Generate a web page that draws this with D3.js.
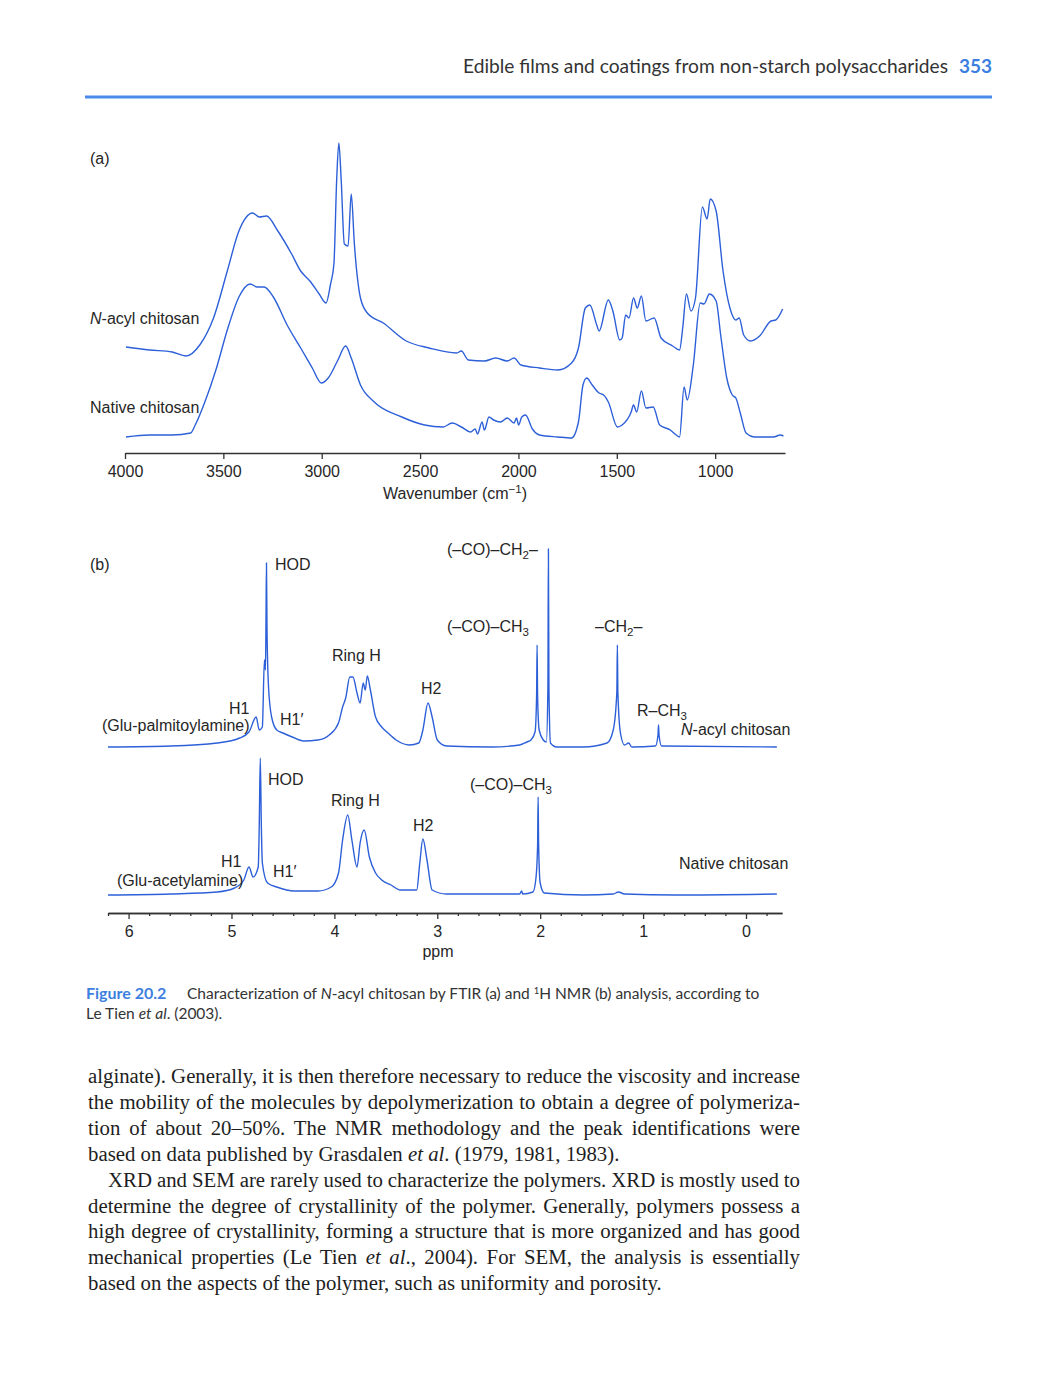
<!DOCTYPE html>
<html>
<head>
<meta charset="utf-8">
<script src="https://cdn.jsdelivr.net/npm/d3@7"></script>
<style>
  body { margin: 0; background: #fff; }
  svg text { white-space: pre; }
</style>
</head>
<body>
<svg id="page" width="1060" height="1390"></svg>
<script>
// ---- FTIR (a): wavenumber (cm-1) and absorbance (a.u.) ----
var irTicks = [4000, 3500, 3000, 2500, 2000, 1500, 1000];
var irAcylWn = [3995,3876,3760,3690,3620,3550,3480,3421,3351,3317,3281,3223,3153,3107,3060,3013,2978,2955,2938,2924,2913,2901,2885,2866,2850,2834,2803,2768,2687,2570,2454,2314,2290,2255,2173,2115,2057,2022,1987,1893,1800,1730,1695,1660,1637,1602,1590,1543,1520,1485,1473,1455,1438,1415,1396,1375,1352,1310,1275,1216,1181,1165,1146,1123,1100,1065,1041,1025,995,960,925,895,878,855,820,774,716,692,657];
var irAcylAbs = [106,103,101,97,108,135,182,222,240,236,237,222,199,182,172,159,150,169,189,273,310,273,209,207,259,209,155,140,130,112,105,100,102,93,92,95,92,95,88,85,83,90,105,145,148,128,122,153,142,113,115,138,135,155,145,157,132,135,115,107,103,125,159,142,155,246,234,254,242,182,145,133,135,118,112,117,132,133,144];
var irNativeWn = [3995,3876,3760,3666,3643,3596,3538,3480,3421,3363,3328,3293,3246,3176,3107,3048,3002,2967,2920,2878,2850,2803,2733,2593,2477,2383,2337,2290,2243,2220,2208,2185,2173,2150,2126,2091,2057,2022,2010,1999,1983,1964,1929,1893,1800,1730,1695,1672,1653,1625,1590,1567,1543,1497,1473,1427,1415,1399,1375,1352,1315,1282,1228,1198,1181,1158,1142,1111,1076,1057,1029,995,972,941,913,895,871,843,797,704,669,653];
var irNativeAbs = [16,18,18,20,28,50,83,123,156,169,166,166,156,128,105,85,70,75,92,107,95,68,51,36,28,26,30,26,21,24,19,31,23,36,33,31,35,30,35,28,36,38,24,18,16,15,31,68,75,68,60,58,51,26,28,41,48,41,62,45,46,28,23,18,16,66,53,88,150,149,159,152,118,75,58,55,39,20,16,16,18,17];

// ---- 1H NMR (b): chemical shift (ppm) and intensity (a.u.) ----
var nmrMajorTicks = [6, 5, 4, 3, 2, 1, 0];
var nmrAcylPpm = [6.2,5.59,5.14,4.92,4.83,4.76,4.73,4.70,4.68,4.67,4.665,4.66,4.655,4.64,4.61,4.56,4.50,4.41,4.30,4.16,4.05,3.96,3.92,3.89,3.85,3.82,3.78,3.75,3.72,3.70,3.68,3.65,3.60,3.54,3.49,3.40,3.27,3.18,3.14,3.09,3.05,3.00,2.91,2.47,2.20,2.13,2.09,2.05,2.035,2.03,2.025,2.01,1.97,1.94,1.925,1.92,1.915,1.90,1.84,1.58,1.35,1.29,1.255,1.25,1.245,1.22,1.18,1.14,1.11,0.88,0.855,0.85,0.845,0.82,-0.3];
var nmrAcylInt = [0,1,4,9,15,30,17,20,87,77,120,184,120,60,30,17,14,10,6,7,12,24,40,49,70,70,54,44,64,57,71,57,30,20,15,7,2,4,17,44,30,7,1,0,2,5,7,15,50,102,50,17,7,5,60,198,60,4,0,0,4,17,55,102,55,14,2,4,0,1,12,22,12,1,0];
var nmrNativePpm = [6.2,5.59,5.14,4.97,4.88,4.83,4.79,4.74,4.73,4.72,4.71,4.70,4.65,4.56,4.39,4.16,4.03,3.96,3.92,3.87,3.83,3.78,3.75,3.71,3.66,3.60,3.54,3.45,3.36,3.20,3.17,3.14,3.10,3.05,2.91,2.20,2.18,2.17,2.07,2.04,2.025,2.02,2.015,2.00,1.96,1.58,1.29,1.24,1.18,0.68,-0.3];
var nmrNativeInt = [0,1,3,7,15,28,18,28,70,137,70,32,12,8,4,4,8,22,55,80,55,28,52,65,38,22,15,10,5,5,32,56,35,5,1,1,4,1,3,18,50,98,50,12,2,0,1,3,1,0,1];

var blue = "#2d60d8";
var ink = "#262626";
var sans = "'Liberation Sans', Arial, sans-serif";
var labelSize = 16;
var svg = d3.select("#page");

/**
 * add a text label with italic / sub / sup pieces
 */
function addLabel(parent, x, y, parts, size, anchor){
    size = size || labelSize;
    var t = parent.append("text")
        .attr("x", x).attr("y", y)
        .attr("font-family", sans)
        .attr("font-size", size)
        .attr("fill", ink)
        .attr("text-anchor", anchor || "start");
    var shift = 0;
    parts.forEach(function(p){
        if(typeof p === "string"){ p = {t: p}; }
        var target = p.sub ? 4 : (p.sup ? -6 : 0);
        var s = t.append("tspan").text(p.t).attr("dy", target - shift);
        shift = target;
        if(p.i){ s.attr("font-style", "italic"); }
        if(p.sub || p.sup){ s.attr("font-size", size * 0.72); }
    });
    return t;
}

// ---- page header ----
svg.append("text")
    .attr("x", 948).attr("y", 73)
    .attr("text-anchor", "end")
    .attr("font-family", "Lato, 'Open Sans', sans-serif")
    .attr("font-size", 19)
    .attr("fill", "#333")
    .attr("textLength", 485)
    .attr("lengthAdjust", "spacingAndGlyphs")
    .text("Edible films and coatings from non-starch polysaccharides");
svg.append("text")
    .attr("x", 992).attr("y", 73)
    .attr("text-anchor", "end")
    .attr("font-family", "Lato, 'Open Sans', sans-serif")
    .attr("font-size", 19)
    .attr("font-weight", "bold")
    .attr("fill", "#3d7fe0")
    .text("353");
svg.append("line")
    .attr("x1", 85).attr("x2", 992)
    .attr("y1", 97).attr("y2", 97)
    .attr("stroke", "#4a8ae8")
    .attr("stroke-width", 3);

// ---- (a) FTIR ----
var irX = d3.scaleLinear().domain([4000, 645]).range([125, 785]);
var irY = d3.scaleLinear().domain([0, 320]).range([453, 133]);
var irLine = d3.line()
    .x(function(d){ return irX(d[0]); })
    .y(function(d){ return irY(d[1]); })
    .curve(d3.curveMonotoneX);

var gA = svg.append("g");
[d3.zip(irAcylWn, irAcylAbs), d3.zip(irNativeWn, irNativeAbs)].forEach(function(series){
    gA.append("path")
        .datum(series)
        .attr("d", irLine)
        .attr("fill", "none")
        .attr("stroke", blue)
        .attr("stroke-width", 1.4)
        .attr("stroke-linejoin", "round");
});

var axA = gA.append("g")
    .attr("transform", "translate(0,453)")
    .call(d3.axisBottom(irX).tickValues(irTicks).tickFormat(d3.format("d"))
        .tickSize(6).tickSizeOuter(0).tickPadding(7));
axA.selectAll("path,line").attr("stroke", "#333").attr("stroke-width", 1.3);
axA.selectAll("text").attr("font-family", sans).attr("font-size", labelSize).attr("fill", ink);

addLabel(gA, 90, 164, ["(a)"]);
addLabel(gA, 90, 324, [{t: "N", i: true}, "-acyl chitosan"]);
addLabel(gA, 90, 413, ["Native chitosan"]);
addLabel(gA, 455, 499, ["Wavenumber (cm", {t: "\u22121", sup: true}, ")"], labelSize, "middle");

// ---- (b) 1H NMR ----
var nmrX = d3.scaleLinear().domain([6.2, -0.35]).range([108, 782]);
var nmrLine = function(base){
    var y = d3.scaleLinear().domain([0, 200]).range([base, base - 200]);
    return d3.line()
        .x(function(d){ return nmrX(d[0]); })
        .y(function(d){ return y(d[1]); })
        .curve(d3.curveMonotoneX);
};

var gB = svg.append("g");
gB.append("path")
    .datum(d3.zip(nmrAcylPpm, nmrAcylInt))
    .attr("d", nmrLine(747))
    .attr("fill", "none").attr("stroke", blue).attr("stroke-width", 1.4);
gB.append("path")
    .datum(d3.zip(nmrNativePpm, nmrNativeInt))
    .attr("d", nmrLine(895))
    .attr("fill", "none").attr("stroke", blue).attr("stroke-width", 1.4);

var minorTicks = d3.range(-1, 32).map(function(i){ return i / 5; })
    .filter(function(v){ return Math.abs(v - Math.round(v)) > 1e-6; });
gB.append("g")
    .attr("transform", "translate(0,913)")
    .call(d3.axisBottom(nmrX).tickValues(minorTicks).tickSize(3).tickSizeOuter(0).tickFormat(""));
var axB = gB.append("g")
    .attr("transform", "translate(0,913)")
    .call(d3.axisBottom(nmrX).tickValues(nmrMajorTicks).tickFormat(d3.format("d"))
        .tickSize(6).tickSizeOuter(0).tickPadding(7));
gB.selectAll("path.domain, .tick line").attr("stroke", "#333").attr("stroke-width", 1.3);
axB.selectAll("text").attr("font-family", sans).attr("font-size", labelSize).attr("fill", ink);

addLabel(gB, 438, 957, ["ppm"], labelSize, "middle");
addLabel(gB, 90, 570, ["(b)"]);
addLabel(gB, 275, 570, ["HOD"]);
addLabel(gB, 447, 555, ["(\u2013CO)\u2013CH", {t: "2", sub: true}, "\u2013"]);
addLabel(gB, 447, 632, ["(\u2013CO)\u2013CH", {t: "3", sub: true}]);
addLabel(gB, 595, 632, ["\u2013CH", {t: "2", sub: true}, "\u2013"]);
addLabel(gB, 332, 661, ["Ring H"]);
addLabel(gB, 421, 694, ["H2"]);
addLabel(gB, 229, 714, ["H1"]);
addLabel(gB, 102, 731, ["(Glu-palmitoylamine)"]);
addLabel(gB, 280, 725, ["H1\u2032"]);
addLabel(gB, 637, 716, ["R\u2013CH", {t: "3", sub: true}]);
addLabel(gB, 681, 735, [{t: "N", i: true}, "-acyl chitosan"]);
addLabel(gB, 268, 785, ["HOD"]);
addLabel(gB, 331, 806, ["Ring H"]);
addLabel(gB, 470, 790, ["(\u2013CO)\u2013CH", {t: "3", sub: true}]);
addLabel(gB, 413, 831, ["H2"]);
addLabel(gB, 221, 867, ["H1"]);
addLabel(gB, 117, 886, ["(Glu-acetylamine)"]);
addLabel(gB, 273, 877, ["H1\u2032"]);
addLabel(gB, 679, 869, ["Native chitosan"]);

// ---- caption ----
var capFont = "Lato, 'Open Sans', sans-serif";
svg.append("text")
    .attr("x", 86).attr("y", 999)
    .attr("font-family", capFont)
    .attr("font-size", 16)
    .attr("font-weight", "bold")
    .attr("fill", "#3d7fe0")
    .text("Figure 20.2");
var cap2 = svg.append("text")
    .attr("x", 187).attr("y", 999)
    .attr("font-family", capFont)
    .attr("font-size", 15.5)
    .attr("fill", "#333");
cap2.append("tspan").text("Characterization of ");
cap2.append("tspan").attr("font-style", "italic").text("N");
cap2.append("tspan").text("-acyl chitosan by FTIR (a) and ");
cap2.append("tspan").attr("font-size", 9.5).attr("dy", -5).text("1");
cap2.append("tspan").attr("dy", 5).text("H NMR (b) analysis, according to");
var cap3 = svg.append("text")
    .attr("x", 86).attr("y", 1019)
    .attr("font-family", capFont)
    .attr("font-size", 15.5)
    .attr("fill", "#333");
cap3.append("tspan").text("Le Tien ");
cap3.append("tspan").attr("font-style", "italic").text("et al");
cap3.append("tspan").text(". (2003).");

// ---- body text ----
var bodyLines = [
    {x: 88, just: true, segs: [["alginate). Generally, it is then therefore necessary to reduce the viscosity and increase"]]},
    {x: 88, just: true, segs: [["the mobility of the molecules by depolymerization to obtain a degree of polymeriza-"]]},
    {x: 88, just: true, segs: [["tion of about 20\u201350%. The NMR methodology and the peak identifications were"]]},
    {x: 88, just: false, segs: [["based on data published by Grasdalen "], ["et al", 1], [". (1979, 1981, 1983)."]]},
    {x: 108, just: true, segs: [["XRD and SEM are rarely used to characterize the polymers. XRD is mostly used to"]]},
    {x: 88, just: true, segs: [["determine the degree of crystallinity of the polymer. Generally, polymers possess a"]]},
    {x: 88, just: true, segs: [["high degree of crystallinity, forming a structure that is more organized and has good"]]},
    {x: 88, just: true, segs: [["mechanical properties (Le Tien "], ["et al", 1], ["., 2004). For SEM, the analysis is essentially"]]},
    {x: 88, just: false, segs: [["based on the aspects of the polymer, such as uniformity and porosity."]]}
];
bodyLines.forEach(function(line, i){
    var t = svg.append("text")
        .attr("x", line.x).attr("y", 1083 + i * 25.9)
        .attr("font-family", "'Liberation Serif', 'Times New Roman', serif")
        .attr("font-size", 20.8)
        .attr("fill", "#1e1e1e");
    var full = "";
    line.segs.forEach(function(s){
        var sp = t.append("tspan").text(s[0]);
        if(s[1]){ sp.attr("font-style", "italic"); }
        full += s[0];
    });
    if(line.just){
        var w = t.node().getComputedTextLength();
        var gaps = full.split(" ").length - 1;
        t.attr("word-spacing", (800 - line.x - w) / gaps);
    }
});
</script>
</body>
</html>
